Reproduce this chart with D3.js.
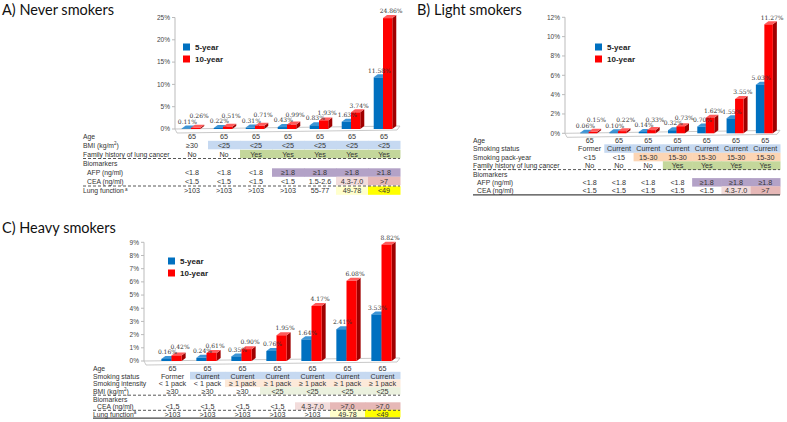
<!DOCTYPE html>
<html>
<head>
<meta charset="utf-8">
<script src="https://cdn.jsdelivr.net/npm/d3@7"></script>
<style>
  body { margin: 0; background: #fff; }
  text { font-family: Arial, "Liberation Sans", sans-serif; }
  .title { font-family: Lato, "Open Sans", sans-serif; font-size: 14.5px; fill: #111; }
  .tick { font-size: 6.5px; fill: #444; }
  .vlab { font-size: 6px; fill: #333; font-family: "DejaVu Serif", serif; }
  .cell { font-size: 7.2px; fill: #333; text-anchor: middle; }
  .rowlab { font-size: 6.8px; fill: #333; }
  .leg { font-size: 8px; font-weight: bold; fill: #222; }
</style>
</head>
<body>
<svg id="chart"></svg>
<script>
var width = 787,
  height = 422;

// series
var seriesNames = ['5-year', '10-year'];

var neverFive = [0.11, 0.22, 0.31, 0.43, 0.83, 1.63, 11.58];
var neverTen = [0.26, 0.51, 0.71, 0.99, 1.93, 3.74, 24.86];
var lightFive = [0.06, 0.10, 0.14, 0.32, 0.70, 1.55, 5.03];
var lightTen = [0.15, 0.22, 0.33, 0.73, 1.62, 3.55, 11.27];
var heavyFive = [0.16, 0.24, 0.35, 0.76, 1.64, 2.41, 3.53];
var heavyTen = [0.42, 0.61, 0.90, 1.95, 4.17, 6.08, 8.82];

// tick labels
var neverTicks = [0, 5, 10, 15, 20, 25];
var lightTicks = [0, 2, 4, 6, 8, 10, 12];
var heavyTicks = [0, 1, 2, 3, 4, 5, 6, 7, 8, 9];

// table rows
var ages = ['65', '65', '65', '65', '65', '65', '65'];

var neverBmi = ['≥30', '<25', '<25', '<25', '<25', '<25', '<25'];
var neverFamily = ['No', 'No', 'Yes', 'Yes', 'Yes', 'Yes', 'Yes'];
var neverAfp = ['<1.8', '<1.8', '<1.8', '≥1.8', '≥1.8', '≥1.8', '≥1.8'];
var neverCea = ['<1.5', '<1.5', '<1.5', '<1.5', '1.5-2.6', '4.3-7.0', '>7'];
var neverLung = ['>103', '>103', '>103', '>103', '55-77', '49-78', '<49'];

var lightStatus = ['Former', 'Current', 'Current', 'Current', 'Current', 'Current', 'Current'];
var lightPack = ['<15', '<15', '15-30', '15-30', '15-30', '15-30', '15-30'];
var lightFamily = ['No', 'No', 'No', 'Yes', 'Yes', 'Yes', 'Yes'];
var lightAfp = ['<1.8', '<1.8', '<1.8', '<1.8', '≥1.8', '≥1.8', '≥1.8'];
var lightCea = ['<1.5', '<1.5', '<1.5', '<1.5', '<1.5', '4.3-7.0', '>7'];

var heavyStatus = ['Former', 'Current', 'Current', 'Current', 'Current', 'Current', 'Current'];
var heavyIntensity = ['< 1 pack', '< 1 pack', '≥ 1 pack', '≥ 1 pack', '≥ 1 pack', '≥ 1 pack', '≥ 1 pack'];
var heavyBmi = ['≥30', '≥30', '≥30', '<25', '<25', '<25', '<25'];
var heavyCea = ['<1.5', '<1.5', '<1.5', '<1.5', '4.3-7.0', '>7.0', '>7.0'];
var heavyLung = ['>103', '>103', '>103', '>103', '>103', '49-78', '<49'];

// highlight colours of table cells
var cellFill = {
  '<25': '#c6d9f1', 'Current': '#c6d9f1', 'Yes': '#c4d79b', '≥1.8': '#b3a2c7',
  '15-30': '#fcd5b4', '≥ 1 pack': '#fde9d9', '4.3-7.0': '#f2dcdb', '>7': '#e6b8b7',
  '>7.0': '#e6b8b7', '49-78': '#ffffcc', '<49': '#ffff00'
};

var svg = d3.select('#chart')
  .attr('width', width)
  .attr('height', height);

svg.append('rect')
  .attr('width', width)
  .attr('height', height)
  .attr('fill', '#fff');

var colors = { front: ['#0070c0', '#ff0000'], side: ['#00457a', '#a00000'], top: ['#3d95d6', '#ff5b5b'] };

function drawPanel(p) {
  var g = svg.append('g');

  g.append('text')
    .attr('class', 'title')
    .attr('x', p.titleX)
    .attr('y', p.titleY)
    .text(p.title);

  var x = d3.scaleBand()
    .domain(d3.range(7))
    .range([p.colLeft, p.colRight]);

  var y = d3.scaleLinear()
    .domain([0, d3.max(p.ticks)])
    .range([p.y0, p.yTop]);

  var dx = 4, dy = 3;
  var right = p.colRight;

  // floor
  g.append('polygon')
    .attr('points', [[p.axisX, p.y0], [right, p.y0 - 3], [right - 3, p.y0 + 1], [p.axisX + 2, p.y0 + 4]].join(' '))
    .attr('fill', '#fff')
    .attr('stroke', '#bbb')
    .attr('stroke-width', 0.8);

  // axis
  g.append('line')
    .attr('x1', p.axisX).attr('x2', p.axisX)
    .attr('y1', y(d3.max(p.ticks))).attr('y2', p.y0)
    .attr('stroke', '#bbb');

  g.selectAll('.tk')
    .data(p.ticks)
    .enter().append('line')
    .attr('x1', p.axisX - 3).attr('x2', p.axisX)
    .attr('y1', function(d) { return y(d); })
    .attr('y2', function(d) { return y(d); })
    .attr('stroke', '#bbb');

  g.selectAll('.tick')
    .data(p.ticks)
    .enter().append('text')
    .attr('class', 'tick')
    .attr('x', p.axisX - 5)
    .attr('y', function(d) { return y(d) + 2.3; })
    .attr('text-anchor', 'end')
    .text(function(d) { return d + '%'; });

  var bw = x.bandwidth() * 0.29;

  function bar(s) {
    return function(d, i) {
      return { x: x(i) + x.bandwidth() / 2 - bw + s * bw - 1, v: d, s: s, i: i };
    };
  }

  [p.five, p.ten].forEach(function(values, s) {
    var bars = values.map(bar(s));
    var bg = g.append('g');
    bars.forEach(function(b) {
      var top = y(b.v);
      bg.append('polygon')
        .attr('points', [[b.x + bw, top], [b.x + bw + dx, top - dy], [b.x + bw + dx, p.y0 - dy], [b.x + bw, p.y0]].join(' '))
        .attr('fill', colors.side[s]);
      bg.append('polygon')
        .attr('points', [[b.x, top], [b.x + dx, top - dy], [b.x + bw + dx, top - dy], [b.x + bw, top]].join(' '))
        .attr('fill', colors.top[s]);
      bg.append('rect')
        .attr('x', b.x)
        .attr('y', top)
        .attr('width', bw)
        .attr('height', p.y0 - top)
        .attr('fill', colors.front[s]);
    });
  });

  // value labels: red label pushed above the blue one when they would collide
  function labelY(d) {
    var blue = y(p.five[d.i]) - 7;
    if (!d.s) return blue + 2.2;
    return Math.min(y(d.v) - 7, blue - 5.5) + 2.2;
  }

  [p.five, p.ten].forEach(function(values, s) {
    g.selectAll('.vl' + s)
      .data(values.map(bar(s)))
      .enter().append('text')
      .attr('class', 'vlab')
      .attr('x', function(d) { return d.x + bw / 2 + (s ? 3.5 : 1); })
      .attr('y', labelY)
      .attr('text-anchor', 'middle')
      .text(function(d) { return d.v.toFixed(2) + '%'; });
  });

  // legend
  seriesNames.forEach(function(name, i) {
    g.append('rect')
      .attr('x', p.legX).attr('y', p.legY + i * 12 - 3.5)
      .attr('width', 7).attr('height', 7)
      .attr('fill', colors.front[i]);
    g.append('text')
      .attr('class', 'leg')
      .attr('x', p.legX + 12).attr('y', p.legY + i * 12 + 3)
      .text(name);
  });

  // table
  p.rows.forEach(function(r) {
    var lab = g.append('text')
      .attr('class', 'rowlab')
      .attr('x', p.labX + (r.indent ? 4 : 0))
      .attr('y', r.y + 2.5);
    lab.append('tspan').text(r.label);
    if (r.sup) {
      lab.append('tspan').attr('dy', -2.5).attr('font-size', '4.5px').text(r.sup);
      if (r.after) lab.append('tspan').attr('dy', 2.5).text(r.after);
    }
    if (!r.values) return;
    r.values.forEach(function(v, i) {
      var fill = (r.fills && r.fills[v]) || cellFill[v];
      if (fill) {
        g.append('rect')
          .attr('x', x(i))
          .attr('y', r.y - 4.2)
          .attr('width', x.bandwidth() + 0.5)
          .attr('height', p.rowH)
          .attr('fill', fill);
      }
    });
    r.values.forEach(function(v, i) {
      g.append('text')
        .attr('class', 'cell')
        .attr('font-size', p.cellSize)
        .attr('x', x(i) + x.bandwidth() / 2)
        .attr('y', r.y + 2.6)
        .text(v);
    });
  });

  p.rules.forEach(function(rl) {
    g.append('line')
      .attr('x1', p.labX).attr('x2', p.colRight)
      .attr('y1', rl.y).attr('y2', rl.y)
      .attr('stroke', '#444')
      .attr('stroke-width', rl.dash ? 0.9 : 1.3)
      .attr('stroke-dasharray', rl.dash ? '3,2' : null);
  });
}

drawPanel({
  title: 'A) Never smokers', titleX: 2, titleY: 15,
  axisX: 175, colLeft: 176, colRight: 400, y0: 129, yTop: 17.5,
  ticks: neverTicks, five: neverFive, ten: neverTen,
  legX: 183, legY: 47, labX: 83, rowH: 8.5, cellSize: '7.2px',
  rows: [
    { label: 'Age', values: ages, y: 136.5 },
    { label: 'BMI (kg/m', sup: '2', after: ')', values: neverBmi, y: 145 },
    { label: 'Family history of lung cancer', values: neverFamily, y: 154 },
    { label: 'Biomarkers', y: 163 },
    { label: 'AFP (ng/ml)', values: neverAfp, y: 172.5, indent: true },
    { label: 'CEA (ng/ml)', values: neverCea, y: 181, indent: true },
    { label: 'Lung function', sup: ' a', values: neverLung, y: 190.5 }
  ],
  rules: [{ y: 158.5, dash: true }, { y: 186, dash: true }]
});

drawPanel({
  title: 'B) Light smokers', titleX: 417, titleY: 15,
  axisX: 565, colLeft: 575, colRight: 780, y0: 133.3, yTop: 17.3,
  ticks: lightTicks, five: lightFive, ten: lightTen,
  legX: 595, legY: 47, labX: 473, rowH: 8.5, cellSize: '7.2px',
  rows: [
    { label: 'Age', values: ages, y: 140 },
    { label: 'Smoking status', values: lightStatus, y: 148.5 },
    { label: 'Smoking pack-year', values: lightPack, y: 157 },
    { label: 'Family history of lung cancer', values: lightFamily, y: 165.5 },
    { label: 'Biomarkers', y: 174 },
    { label: 'AFP (ng/ml)', values: lightAfp, y: 182.3, indent: true },
    { label: 'CEA (ng/ml)', values: lightCea, y: 190.5, indent: true }
  ],
  rules: [{ y: 169.6, dash: true }, { y: 194.8, dash: false }]
});

drawPanel({
  title: 'C) Heavy smokers', titleX: 2, titleY: 233,
  axisX: 144, colLeft: 155, colRight: 400, y0: 361, yTop: 242.3,
  ticks: heavyTicks, five: heavyFive, ten: heavyTen,
  legX: 168, legY: 261, labX: 93, rowH: 7.6, cellSize: '6.8px',
  rows: [
    { label: 'Age', values: ages, y: 368.3 },
    { label: 'Smoking status', values: heavyStatus, y: 376 },
    { label: 'Smoking intensity', values: heavyIntensity, y: 383.7 },
    { label: 'BMI (kg/m', sup: '2', after: ')', values: heavyBmi, y: 391.3, fills: { '<25': '#ebf1de' } },
    { label: 'Biomarkers', y: 399 },
    { label: 'CEA (ng/ml)', values: heavyCea, y: 406.5, indent: true },
    { label: 'Lung function', sup: 'a', values: heavyLung, y: 414 }
  ],
  rules: [{ y: 395.2, dash: true }, { y: 410.3, dash: true }, { y: 418.2, dash: false }]
});
</script>
</body>
</html>
